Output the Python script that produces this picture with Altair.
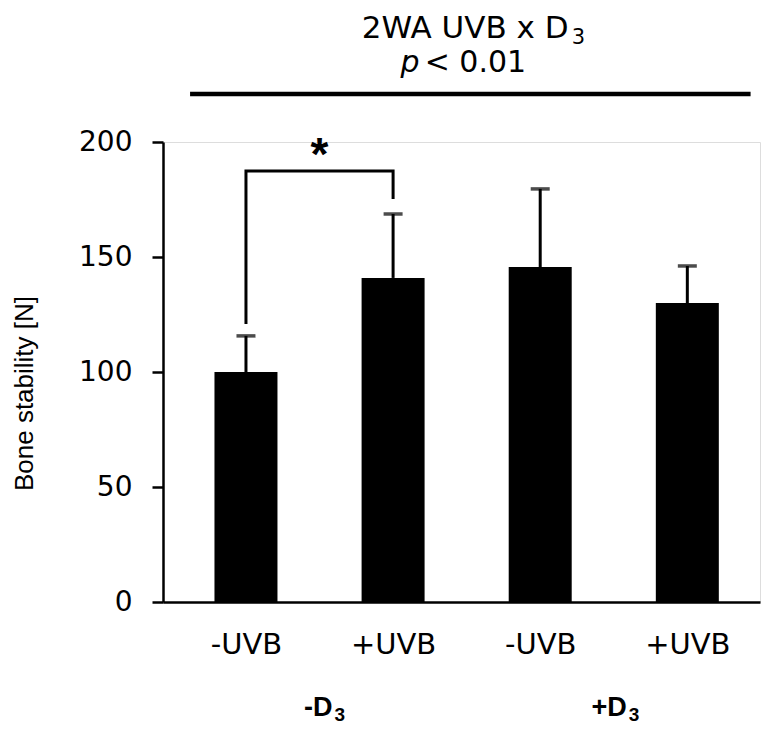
import altair as alt
import pandas as pd

# ---- data ----
categories = ["-UVB", "+UVB", "-UVB", "+UVB"]
positions = [1, 2, 3, 4]
means = [100.0, 140.9, 145.6, 130.0]
errors = [15.7, 27.8, 34.0, 16.1]
groups = ["-D", "+D"]
group_sub = ["3", "3"]
group_pos = [1.5, 3.5]
bracket_x = [1, 1, 2, 2]
bracket_y = [120.9, 187.4, 187.4, 175.2]
title_line1 = "2WA UVB x D"
title_sub = "3"
title_p = "p"
title_rest = "< 0.01"

df = pd.DataFrame({"pos": positions, "cat": categories, "mean": means, "err": errors})
df["upper"] = df["mean"] + df["err"]
br = pd.DataFrame({"x": bracket_x, "y": bracket_y, "o": list(range(len(bracket_x)))})
gdf = pd.DataFrame({"x": group_pos, "label": groups, "sub": group_sub, "y": [-49.6] * 2})

xs = alt.Scale(domain=[0.47, 4.46], nice=False, zero=False)
ys = alt.Scale(domain=[0, 200], nice=False)

label_expr = "[" + ",".join("'" + c + "'" for c in categories) + "][datum.value - 1]"

x_axis = alt.Axis(values=positions, labelExpr=label_expr, title=None, ticks=False,
                  tickSize=0, grid=False, domainColor="black", domainWidth=2.5,
                  labelFont="DejaVu Sans", labelFontSize=29, labelColor="black",
                  labelBaseline="alphabetic", labelPadding=51)
y_axis = alt.Axis(values=[0, 50, 100, 150, 200], title="Bone stability [N]", grid=False,
                  domainColor="black", domainWidth=2.5, tickColor="black", tickWidth=2.5,
                  tickSize=11, labelFont="DejaVu Sans", labelFontSize=28, labelColor="black",
                  labelPadding=20, titleFont="Liberation Sans", titleFontSize=26,
                  titleFontWeight="normal", titleColor="black", titleAngle=-90,
                  titleAlign="center", titleBaseline="alphabetic", titleX=-131, titleY=251)

base = alt.Chart(df)
bars = base.mark_bar(color="black", size=63).encode(
    x=alt.X("pos:Q", scale=xs, axis=x_axis),
    y=alt.Y("mean:Q", scale=ys, axis=y_axis),
)
err_rule = base.mark_rule(color="black", strokeWidth=3).encode(
    x=alt.X("pos:Q", scale=xs), y=alt.Y("mean:Q", scale=ys), y2="upper:Q")
err_cap = base.mark_tick(color="black", size=19, thickness=3.5, orient="horizontal").encode(
    x=alt.X("pos:Q", scale=xs), y=alt.Y("upper:Q", scale=ys))

bracket = alt.Chart(br).mark_line(color="black", strokeWidth=3, clip=False).encode(
    x=alt.X("x:Q", scale=xs), y=alt.Y("y:Q", scale=ys), order="o:Q")
star = alt.Chart(pd.DataFrame({"x": [1.5], "y": [187.4], "t": ["*"]})).mark_text(
    font="Liberation Sans", fontSize=46, fontWeight="bold", baseline="alphabetic",
    color="black", dy=-1).encode(x=alt.X("x:Q", scale=xs), y=alt.Y("y:Q", scale=ys), text="t:N")

gbase = alt.Chart(gdf)
grp = gbase.mark_text(font="Liberation Sans", fontSize=27, fontWeight="bold",
                      baseline="alphabetic", align="right", dx=13, color="black").encode(
    x=alt.X("x:Q", scale=xs), y=alt.Y("y:Q", scale=ys), text="label:N")
grp_sub = gbase.mark_text(font="Liberation Sans", fontSize=19, fontWeight="bold",
                          baseline="alphabetic", align="left", dx=15, dy=5, color="black").encode(
    x=alt.X("x:Q", scale=xs), y=alt.Y("y:Q", scale=ys), text="sub:N")

tdf = pd.DataFrame({"x": [2.5], "y1": [245.2], "y2": [230.4], "t1": [title_line1],
                    "s": [title_sub], "p": [title_p], "r": [title_rest]})
tb = alt.Chart(tdf)
t1 = tb.mark_text(font="DejaVu Sans", fontSize=31, baseline="alphabetic", align="right",
                  dx=102, color="black").encode(
    x=alt.X("x:Q", scale=xs), y=alt.Y("y1:Q", scale=ys), text="t1:N")
t1s = tb.mark_text(font="DejaVu Sans", fontSize=21, baseline="alphabetic", align="left",
                   dx=105, dy=6, color="black").encode(
    x=alt.X("x:Q", scale=xs), y=alt.Y("y1:Q", scale=ys), text="s:N")
t2a = tb.mark_text(font="DejaVu Sans", fontSize=30, fontStyle="italic", baseline="alphabetic",
                   align="right", dx=-47, color="black").encode(
    x=alt.X("x:Q", scale=xs), y=alt.Y("y2:Q", scale=ys), text="p:N")
t2b = tb.mark_text(font="DejaVu Sans", fontSize=30, baseline="alphabetic", align="left", dx=-42,
                   color="black").encode(
    x=alt.X("x:Q", scale=xs), y=alt.Y("y2:Q", scale=ys), text="r:N")
hline = alt.Chart(pd.DataFrame({"x": [0.62], "x2": [4.43], "y": [220.9]})).mark_rule(
    color="black", strokeWidth=4.5).encode(
    x=alt.X("x:Q", scale=xs), x2="x2:Q", y=alt.Y("y:Q", scale=ys))

chart = alt.layer(bars, err_rule, err_cap, bracket, star, grp, grp_sub,
                  t1, t1s, t2a, t2b, hline).properties(
    width=597, height=460,
    autosize=alt.AutoSizeParams(type="none"),
    padding={"left": 155, "top": 134, "right": 8, "bottom": 124},
).configure_view(stroke=None).configure(background="white")

chart.save("out.html", embed_options={"renderer": "svg", "actions": False})
